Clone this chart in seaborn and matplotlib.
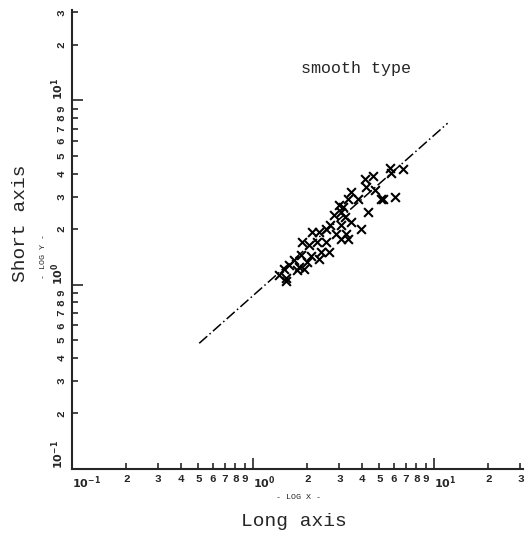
import numpy as np
import pandas as pd
import matplotlib
matplotlib.use("Agg")
import matplotlib.pyplot as plt
import seaborn as sns

# du lieu doc tu hinh (truc log-log)
long_axis = [5.80, 5.73, 6.76, 6.11, 5.25, 4.74, 4.23, 4.18, 4.62, 3.82,
             4.34, 3.97, 3.37, 3.50, 3.16, 3.05, 2.79, 3.24, 3.08, 2.68,
             2.52, 2.31, 2.25, 2.39, 2.31, 2.08, 2.03, 1.86, 1.84, 1.68,
             1.79, 1.58, 1.48, 1.52, 3.08, 2.86, 2.97, 3.50, 3.28, 2.52,
             2.11, 2.62, 1.98, 1.91, 1.39, 1.75, 1.52, 5.12, 3.37]
short_axis = [4.05, 4.30, 4.21, 2.97, 2.90, 3.24, 3.37, 3.72, 3.90, 2.90,
              2.47, 2.00, 1.77, 3.16, 2.62, 2.47, 2.38, 2.32, 2.10, 2.10,
              2.00, 1.93, 1.70, 1.50, 1.38, 1.42, 1.64, 1.70, 1.45, 1.36,
              1.25, 1.28, 1.22, 1.08, 1.77, 1.88, 2.69, 2.18, 1.88, 1.70,
              1.93, 1.50, 1.33, 1.22, 1.13, 1.20, 1.04, 2.90, 2.90]

# duong hoi quy (hai dau mut)
fit_x = [0.505, 11.9]
fit_y = [0.48, 7.5]

# nhan truc
tick_vals = [0.1, 0.2, 0.3, 0.4, 0.5, 0.6, 0.7, 0.8, 0.9,
             1, 2, 3, 4, 5, 6, 7, 8, 9, 10, 20, 30]
tick_labels = ["$\\mathbf{10^{-1}}$", "2", "3", "4", "5", "6", "7", "8", "9",
               "$\\mathbf{10^{0}}$", "2", "3", "4", "5", "6", "7", "8", "9",
               "$\\mathbf{10^{1}}$", "2", "3"]
major_vals = [0.1, 1, 10]

df = pd.DataFrame({"Long axis": long_axis, "Short axis": short_axis})
df_fit = pd.DataFrame({"x": fit_x, "y": fit_y})

sns.set_style("ticks")
plt.rcParams["font.family"] = ["Liberation Mono", "DejaVu Sans Mono"]
plt.rcParams["mathtext.fontset"] = "dejavusans"

fig = plt.figure(figsize=(5.25, 5.34), dpi=100)
ax = fig.add_axes([0.137, 0.122, 0.859, 0.860])

sns.lineplot(data=df_fit, x="x", y="y", ax=ax, color="black",
             linewidth=1.1, linestyle=(0, (7, 2, 1, 2)), sort=False)
sns.scatterplot(data=df, x="Long axis", y="Short axis", ax=ax,
                marker="x", color="black", s=40, linewidth=1.5)

ax.set_xscale("log")
ax.set_yscale("log")
ax.set_xlim(0.1, 31)
ax.set_ylim(0.1, 31)

ax.set_xticks(tick_vals)
ax.set_xticklabels(tick_labels, fontsize=8, fontweight="bold")
ax.set_yticks(tick_vals)
ax.set_yticklabels(tick_labels, fontsize=8, fontweight="bold",
                   rotation=90, va="center")
ax.xaxis.set_minor_locator(matplotlib.ticker.NullLocator())
ax.yaxis.set_minor_locator(matplotlib.ticker.NullLocator())
ax.tick_params(direction="in", length=4, width=1.2, pad=4)

# nhan chinh: ve lech sang phai / len tren so voi vach
for t, v in zip(ax.xaxis.get_major_ticks(), tick_vals):
    if v in major_vals:
        t.tick1line.set_markersize(8)
        t.label1.set_horizontalalignment("left")
for t, v in zip(ax.yaxis.get_major_ticks(), tick_vals):
    if v in major_vals:
        t.tick1line.set_markersize(8)
        t.label1.set_verticalalignment("bottom")

sns.despine(ax=ax)
ax.spines["left"].set_linewidth(1.5)
ax.spines["bottom"].set_linewidth(1.5)
ax.set_xlabel("")
ax.set_ylabel("")

fig.text(0.56, 0.024, "Long axis", fontsize=14, ha="center", va="center")
fig.text(0.040, 0.582, "Short axis", fontsize=14, ha="center", va="center",
         rotation=90)
fig.text(0.568, 0.069, "- LOG X -", fontsize=6, ha="center", va="center")
fig.text(0.082, 0.52, "- LOG Y -", fontsize=6, ha="center", va="center",
         rotation=90)
fig.text(0.678, 0.871, "smooth type", fontsize=12, ha="center", va="center")

fig.savefig("out.png", dpi=100)
